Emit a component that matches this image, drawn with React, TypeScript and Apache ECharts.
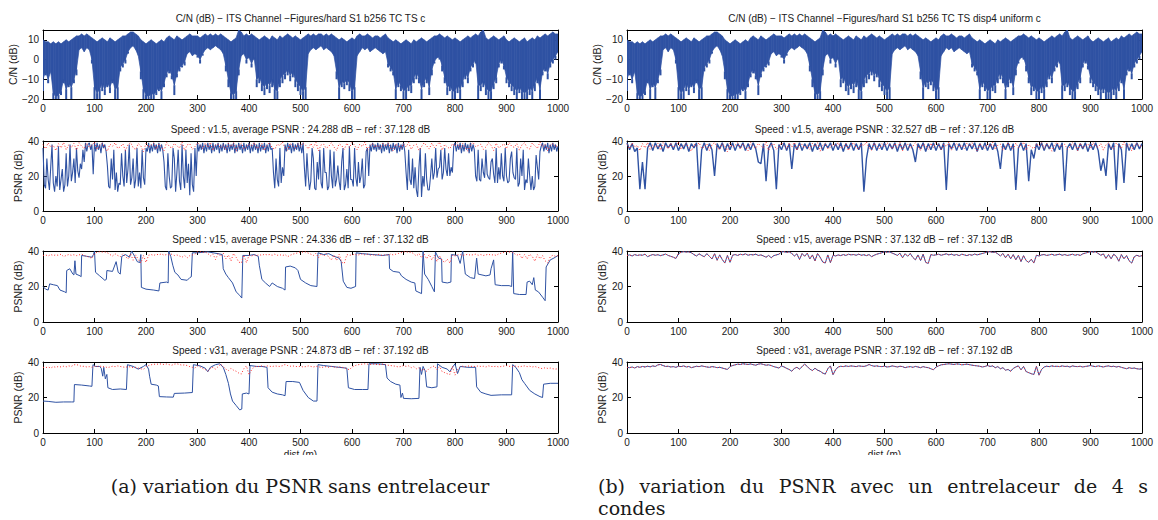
import React, { useEffect, useRef } from "react";
import * as echarts from "echarts";

// ---------------- data ----------------
const STEP = 5; // metres between samples of the sampled series
const STEP_FINE = 2.5; // metres between samples of the dense v1.5 trace
const X_MIN = 0;
const X_MAX = 1000;
const X_INTERVAL = 100;

const TITLES = [
  "C/N (dB) \u2212 ITS Channel \u2212Figures/hard S1 b256 TC TS c",
  "C/N (dB) \u2212 ITS Channel \u2212Figures/hard S1 b256 TC TS disp4 uniform c",
  "Speed : v1.5, average PSNR : 24.288 dB \u2212 ref : 37.128 dB",
  "Speed : v1.5, average PSNR : 32.527 dB \u2212 ref : 37.126 dB",
  "Speed : v15, average PSNR : 24.336 dB \u2212 ref : 37.132 dB",
  "Speed : v15, average PSNR : 37.132 dB \u2212 ref : 37.132 dB",
  "Speed : v31, average PSNR : 24.873 dB \u2212 ref : 37.192 dB",
  "Speed : v31, average PSNR : 37.192 dB \u2212 ref : 37.192 dB",
];

// C/N trace, every 5 m: upper extent, level down to which the trace is solid, lowest spike
const CN_HI = [
  10, 9, 9, 8, 9, 8, 9, 8, 9, 10,
  9, 10, 11, 12, 12, 13, 12, 13, 12, 11,
  10, 9, 10, 11, 10, 9, 11, 10, 9, 10,
  11, 12, 12, 13, 14, 14, 13, 12, 10, 9,
  8, 9, 10, 9, 8, 9, 10, 9, 11, 12,
  11, 10, 12, 11, 10, 11, 12, 13, 12, 12,
  12, 11, 12, 13, 12, 13, 12, 13, 12, 13,
  12, 11, 10, 9, 10, 11, 15, 14, 12, 13,
  12, 13, 12, 11, 10, 11, 12, 11, 10, 12,
  11, 10, 12, 11, 12, 13, 12, 11, 12, 11,
  10, 11, 12, 13, 12, 13, 12, 13, 13, 12,
  13, 12, 13, 12, 11, 10, 11, 10, 9, 10,
  11, 10, 12, 13, 12, 12, 13, 12, 11, 12,
  12, 11, 12, 13, 11, 10, 9, 10, 9, 8,
  9, 10, 9, 8, 10, 9, 10, 11, 10, 9,
  10, 11, 12, 12, 13, 12, 11, 12, 11, 10,
  11, 10, 9, 10, 11, 12, 11, 12, 13, 12,
  14, 15, 11, 10, 11, 12, 11, 10, 11, 12,
  10, 9, 10, 11, 10, 9, 10, 11, 9, 10,
  11, 10, 12, 11, 12, 13, 12, 13, 14, 13,
  13,
];
const CN_CORE = [
  -10, -6, -10, -6, -17, -19, -18, -16, -10, -15,
  -12, -14, -10, -5, 5, 6, 4, 6, 5, 0,
  -14, -17, -15, -12, -15, -12, -14, -10, -15, -14,
  -4, -2, 0, 4, 6, 7, 5, 2, -6, -15,
  -18, -19, -17, -18, -16, -14, -16, -12, -7, -5,
  -8, -13, -7, -4, -3, -1, 3, 4, 2, 3,
  2, 0, 3, 5, 6, 5, 6, 7, 6, 5,
  3, -3, -10, -17, -18, -16, -5, 2, 3, 0,
  1, -2, 1, -10, -9, -12, -14, -11, -13, -10,
  -15, -16, -10, -8, -7, -5, -8, -6, -10, -12,
  -14, -16, -14, 3, 5, 6, 5, 6, 7, 5,
  6, 5, 4, 2, -6, -14, -11, -12, -10, -12,
  -16, -14, 2, 4, 6, 5, 6, 4, 5, 6,
  5, 4, 3, 4, -2, -4, -6, -15, -11, -13,
  -16, -15, -13, -13, -9, -7, -9, -15, -11, -9,
  -14, -5, -1, 1, 1, -3, -9, -14, -13, -16,
  -16, -13, -15, -11, -7, -9, -4, -2, 0, -13,
  -13, -11, -14, -16, -16, -12, -9, -2, 0, -3,
  -9, -11, -13, -14, -16, -14, -16, -17, -16, -14,
  -16, -12, -9, -15, -6, -4, -7, -2, 0, 2,
  4,
];
const CN_LO = [
  -16, -8, -12, -6, -20, -20, -20, -18, -12, -20,
  -14, -20, -12, -8, 5, 6, 4, 6, 5, -2,
  -20, -20, -20, -16, -18, -14, -17, -12, -20, -20,
  -6, -4, -2, 3, 6, 7, 5, 2, -10, -20,
  -20, -20, -20, -20, -18, -16, -20, -14, -9, -7,
  -10, -18, -9, -6, -4, -3, 3, 4, 2, 3,
  1, -2, 2, 5, 6, 5, 6, 7, 6, 5,
  3, -6, -14, -20, -20, -20, -8, 2, 3, -2,
  1, -4, 0, -14, -12, -16, -18, -15, -17, -14,
  -20, -20, -14, -12, -10, -8, -11, -9, -14, -16,
  -18, -20, -20, 3, 5, 6, 5, 6, 7, 5,
  6, 5, 4, 2, -10, -20, -14, -15, -13, -16,
  -20, -20, 2, 4, 6, 5, 6, 4, 5, 6,
  5, 4, 3, 4, -4, -6, -8, -20, -14, -16,
  -20, -20, -16, -17, -12, -10, -12, -20, -14, -12,
  -18, -8, -2, 1, 0, -6, -12, -18, -16, -20,
  -20, -17, -20, -14, -10, -12, -6, -4, -2, -20,
  -16, -14, -18, -20, -20, -15, -12, -4, -2, -5,
  -12, -14, -16, -18, -20, -17, -20, -20, -20, -18,
  -20, -16, -12, -20, -8, -6, -10, -4, -2, 0,
  4,
];

// PSNR v1.5 without interleaver, every 2.5 m
const PSNR_V1_5_NO_INTER = [
  36, 15, 13, 30, 18, 12, 25, 38, 16, 11, 20, 14, 37, 12, 18, 24, 11, 15, 33, 14,
  20, 38, 17, 22, 30, 16, 36, 23, 19, 27, 24, 35, 28, 39, 34, 38, 39, 35, 38, 21,
  39, 34, 39, 35, 38, 33, 39, 36, 38, 34, 26, 14, 13, 30, 18, 35, 12, 22, 11, 16,
  15, 33, 20, 14, 35, 16, 24, 38, 15, 19, 30, 13, 18, 36, 14, 22, 13, 35, 19, 15,
  36, 34, 39, 33, 38, 34, 39, 35, 38, 33, 39, 34, 38, 35, 28, 14, 12, 33, 20, 13,
  14, 36, 30, 11, 22, 35, 17, 12, 38, 20, 13, 35, 16, 27, 9, 33, 15, 11, 36, 20,
  39, 34, 38, 35, 39, 33, 38, 34, 39, 35, 38, 33, 39, 34, 38, 35, 39, 33, 38, 34,
  39, 35, 38, 33, 39, 34, 38, 35, 39, 33, 38, 34, 39, 35, 38, 33, 39, 34, 38, 35,
  39, 33, 38, 34, 39, 35, 38, 33, 39, 34, 38, 35, 39, 33, 38, 34, 39, 35, 36, 22,
  13, 30, 18, 14, 36, 16, 25, 20, 38, 34, 39, 35, 38, 33, 39, 34, 38, 35, 39, 34,
  38, 33, 39, 25, 14, 33, 20, 12, 17, 36, 30, 13, 12, 28, 18, 35, 16, 13, 36, 22,
  22, 12, 14, 35, 20, 13, 34, 14, 18, 26, 17, 12, 28, 36, 12, 15, 24, 13, 37, 18,
  18, 14, 36, 19, 14, 28, 16, 20, 30, 13, 15, 34, 36, 20, 38, 34, 39, 35, 38, 34,
  39, 35, 38, 33, 39, 34, 38, 35, 39, 33, 38, 34, 39, 35, 38, 33, 39, 34, 38, 35,
  39, 34, 22, 12, 35, 18, 15, 30, 13, 25, 12, 8, 25, 36, 8, 20, 14, 33, 18, 12,
  12, 20, 30, 18, 22, 36, 19, 24, 25, 35, 18, 22, 36, 24, 20, 33, 20, 25, 22, 37,
  39, 34, 38, 35, 39, 33, 38, 34, 39, 35, 38, 33, 39, 34, 38, 35, 20, 17, 35, 18,
  17, 30, 22, 19, 35, 21, 19, 18, 28, 30, 21, 16, 36, 16, 25, 18, 33, 20, 17, 36,
  20, 16, 17, 30, 34, 22, 19, 18, 36, 14, 16, 30, 20, 35, 12, 18, 16, 30, 20, 12,
  20, 12, 14, 32, 25, 18, 34, 37, 39, 34, 38, 35, 39, 33, 38, 34, 39, 35, 38, 34,
  37,
];

// PSNR v1.5 with 4 s interleaver, every 5 m
const PSNR_V1_5_INTER = [
  39, 35, 38.5, 34, 36, 12.5, 28, 12.5, 36, 39,
  34.5, 39, 35.5, 38.5, 34, 39, 36, 38.5, 35, 39,
  34.5, 38.5, 35.5, 39, 34, 38.5, 36, 39, 12.5, 35,
  39, 34.5, 38.5, 35, 20, 38.5, 35.5, 39, 34, 38.5,
  35, 39, 34.5, 38.5, 36, 39, 34.5, 38.5, 35, 39,
  35.5, 28, 27, 38.5, 17, 36, 39, 34.5, 12.5, 38,
  35, 39, 34.5, 38.5, 24, 38.5, 35, 39, 34.5, 38.5,
  35.5, 39, 34, 38.5, 35, 39, 34.5, 38.5, 36, 39,
  34.5, 38.5, 35, 39, 34, 38.5, 35.5, 39, 34.5, 38.5,
  35, 39, 11, 30, 38.5, 35, 39, 34.5, 38.5, 35,
  39, 34.5, 38.5, 35.5, 39, 34, 38.5, 35, 39, 34.5,
  38.5, 35, 28, 38.5, 35.5, 39, 34, 38.5, 35, 39,
  34.5, 38.5, 35, 39, 12, 38.5, 35.5, 39, 34.5, 38.5,
  35, 39, 34.5, 38.5, 35.5, 39, 34, 38.5, 35, 39,
  34.5, 38.5, 35, 39, 34, 24, 38.5, 35, 39, 34.5,
  38.5, 12, 36, 39, 34.5, 38.5, 17, 35, 30, 38.5,
  35, 39, 34.5, 38.5, 35.5, 39, 34, 38.5, 35, 39,
  11.5, 36, 38.5, 35, 39, 34.5, 38.5, 35.5, 39, 34,
  38.5, 35, 39, 34.5, 23, 30, 20, 38.5, 35, 39,
  12, 38.5, 35, 16, 39, 34.5, 38.5, 35, 39, 35.5,
  38.5,
];

// reference PSNR (no channel errors) v1.5, every 5 m
const REF_V1_5 = [
  38, 35.5, 39, 36.5, 37.5, 34.5, 38.5, 36, 39.2, 35,
  37.8, 36.2, 38.6, 34.8, 39, 37, 35.6, 38.8, 36.4, 37.6,
  39.4, 35.2, 37.4, 38.8, 36, 34.2, 38.2, 37, 39, 35.8,
  36.6, 38.4, 34.6, 37.8, 39.2, 36.2, 35, 38.6, 37.2, 33.8,
  38.8, 36.4, 37.6, 39, 35.4, 38.2, 36.8, 34.4, 39.2, 37,
  35.8, 38.6, 37.2, 36, 39.4, 34.6, 37.8, 38.4, 35.2, 36.8,
  39, 37.4, 35.6, 38.8, 36.6, 39.2, 34.8, 37.6, 38.2, 36,
  37.8, 35, 38.6, 36.8, 39, 34.2, 37.4, 38.8, 35.6, 36.4,
  38.4, 37, 39.2, 35.8, 36.6, 38.6, 34.6, 37.8, 39, 36.2,
  35.2, 38.2, 37.4, 39.4, 36, 34.8, 38.8, 37.2, 35.6, 38.4,
  36.8, 39, 37.6, 35.4, 38.6, 36.4, 39.2, 34.4, 37.8, 38.2,
  35.8, 37, 39, 36.6, 34.6, 38.4, 37.4, 35.2, 38.8, 36.2,
  39.2, 37.6, 35, 38.2, 36.8, 39.4, 34.8, 37.2, 38.6, 36.4,
  37.8, 35.6, 38.8, 37, 39, 36, 34.4, 38.4, 37.4, 35.8,
  38.6, 36.6, 39.2, 35.2, 37.6, 38.2, 34.6, 36.8, 39, 37.2,
  35.4, 38.8, 36.2, 37.8, 39.4, 34.8, 38, 36.6, 35.6, 38.4,
  37, 39, 35.8, 38.6, 36.4, 34.2, 37.8, 39.2, 36.8, 37.4,
  38.2, 35.2, 36.6, 39, 37.6, 34.6, 38.8, 36, 37.2, 38.4,
  35.6, 39.2, 37, 36.4, 38.6, 34.8, 37.8, 39, 36.2, 35.4,
  38.8, 37.2, 35.8, 39.4, 36.6, 38, 34.4, 37.6, 38.6, 36.8,
  37.4,
];

// reference PSNR v15 (also the interleaved v15 result), every 5 m
const REF_V15 = [
  37.5, 37.8, 37.2, 38, 37.5, 37.8, 37.6, 38.2, 36.8, 37.5,
  38, 37.6, 37.9, 37.4, 37.8, 38.3, 37.5, 37, 36.5, 35.8,
  38.5, 39.3, 39.6, 39.4, 39.5, 39, 38, 37.2, 38.4, 37.5,
  36.8, 38.5, 37, 35.5, 38.5, 34.8, 37.8, 35.2, 33.2, 37.5,
  33.6, 37.6, 38, 37.5, 38.2, 37.8, 38.4, 37.6, 38, 37.8,
  38.2, 37.5, 37.8, 37.2, 36.5, 37.5, 36.2, 37.4, 37.8, 38.2,
  39.5, 39.6, 39.2, 39.5, 38.6, 37.2, 38.4, 35.2, 38.6, 37,
  38.8, 35.5, 37.8, 34.4, 38.6, 36.5, 33.8, 33.2, 37.8, 33.4,
  37.6, 37.2, 37.8, 37.4, 38, 37.5, 38.2, 37.8, 38, 37.6,
  38.2, 37.6, 37.9, 37.4, 38, 36.8, 37.6, 38.2, 38.6, 39,
  39.6, 39.3, 39.5, 38.8, 38.2, 37.5, 38.8, 36.2, 38.5, 37,
  38.6, 36.4, 35, 37.8, 34.6, 38.2, 33.6, 33, 38, 37.6,
  37.8, 38.2, 37.6, 38, 38.4, 37.8, 38.2, 37.6, 38, 37.4,
  38.2, 37.8, 37.4, 38, 37.6, 38.3, 37.8, 38.2, 38.6, 39,
  39.5, 39.6, 39.2, 39.4, 38.4, 37.2, 38.6, 36.2, 38.2, 35.6,
  38, 35, 37.6, 34, 37.4, 34.6, 33.6, 35.4, 33.2, 37.6,
  37.2, 37.8, 38, 37.5, 37.8, 38.2, 37.6, 37.9, 38.2, 37.6,
  38, 37.5, 37.8, 38.2, 37.6, 38, 37.5, 38.4, 38.8, 39.2,
  39.6, 39.4, 39.5, 38.6, 37.6, 38.4, 35.8, 38, 35.6, 38.2,
  37, 34.2, 38, 35.6, 37.4, 34.5, 33.2, 36.8, 37.6, 37,
  37.4,
];

// reference PSNR v31 (also the interleaved v31 result), every 5 m
const REF_V31 = [
  37, 36.8, 37.2, 36.6, 37.4, 37, 37.5, 37.2, 37.6, 37.3,
  37.8, 37.5, 38.4, 38.6, 38, 37.5, 37.6, 37.2, 37.4, 37,
  37.6, 37.4, 37.8, 37.2, 37.5, 36.8, 37.2, 37.6, 37.4, 37.8,
  37.5, 37.2, 37, 37.4, 37.2, 36.8, 37, 36.6, 36.2, 35.8,
  37.4, 38, 38.4, 38.8, 38.6, 39, 38.8, 38.6, 38.9, 38.5,
  38.2, 38.8, 39, 38.6, 38.2, 38.4, 38, 37.4, 37, 36.6,
  37.8, 37.2, 36.4, 35.8, 34.8, 36.4, 37, 36, 37.4, 38.8,
  37.5, 36, 35.2, 36.5, 35.4, 34.8, 33.8, 33.2, 36.2, 37.8,
  32.8, 35.6, 37.2, 37.6, 37.4, 37.8, 37.5, 37.8, 37.6, 37.4,
  37.8, 37.6, 37.5, 37.9, 38.6, 38, 37.6, 37.8, 37.5, 37.4,
  37.6, 37.2, 37.4, 37.8, 37.5, 37.2, 37.6, 37.4, 36.8, 37.2,
  37.4, 37, 37.5, 37.2, 36.8, 37.4, 37, 36.8, 36.2, 35.6,
  37.2, 37.8, 38.4, 38.6, 38.8, 39, 38.8, 38.6, 38.9, 38.8,
  38.4, 38.6, 38.8, 38.5, 38.2, 38, 37.8, 37.6, 37.2, 37.5,
  38, 37.5, 37.8, 36.8, 37.4, 36.2, 36.8, 35.4, 35.8, 34.8,
  36.4, 37.2, 37.8, 35.6, 37.5, 34.6, 34, 33.4, 33, 37.6,
  32.6, 35.8, 37.2, 37.6, 37.4, 37.8, 37.5, 37.6, 37.4, 37.8,
  37.5, 37.6, 37.2, 37.8, 37.5, 37.4, 37.6, 37.2, 37.5, 37.7,
  38, 37.6, 37.4, 37.8, 37.5, 37.2, 37.6, 37.8, 37.4, 37.6,
  37.2, 37.5, 37, 36.6, 36.2, 36.8, 36.4, 36.6, 36.2, 36,
  36.2,
];

// PSNR v15 without interleaver: breakpoints (dist m, dB)
const PSNR_V15_NO_INTER_X = [
  0, 5, 10, 13, 20, 28, 33, 42, 45, 46, 52, 58, 60, 62, 64, 72, 74, 75, 85, 95,
  98, 100, 102, 110, 120, 123, 124, 135, 142, 146, 150, 153, 160, 168, 172, 178, 183, 188, 190, 191,
  200, 215, 225, 227, 240, 243, 244, 248, 252, 256, 262, 268, 280, 285, 288, 290, 300, 320, 340, 348,
  350, 355, 360, 368, 375, 382, 386, 388, 400, 410, 418, 420, 425, 432, 440, 445, 455, 465, 470, 471,
  480, 490, 495, 500, 510, 520, 532, 534, 545, 555, 565, 575, 579, 583, 590, 598, 607, 608, 620, 640,
  660, 672, 673, 680, 692, 696, 705, 715, 722, 724, 735, 738, 741, 748, 755, 760, 762, 768, 774, 775,
  785, 792, 793, 805, 810, 815, 820, 830, 838, 842, 845, 860, 868, 870, 875, 878, 890, 905, 910, 912,
  914, 925, 938, 940, 945, 950, 953, 956, 962, 970, 975, 977, 985, 992, 1000,
];
const PSNR_V15_NO_INTER_Y = [
  20, 18.5, 18, 21.5, 21, 20.5, 18, 17, 16.5, 29, 30, 27, 26.5, 34.5, 27, 26, 25.5, 37.5, 37, 36.5,
  38, 40, 28, 26, 23.5, 24, 29, 28.5, 34, 28, 27, 37, 38, 36.5, 40, 37, 34, 33.5, 38, 19.5,
  18.5, 18, 17.5, 22, 22.5, 22, 40, 37, 32, 28, 26.5, 24, 23.5, 25, 25.5, 39, 39, 39.5, 38.5, 38,
  30, 27, 25, 22, 17, 15, 13.5, 37.5, 37.5, 38, 37, 32, 24, 22, 20, 22, 20, 19, 18, 31,
  31.5, 30.5, 29, 24, 22, 20.5, 20, 39, 38, 38.5, 37, 36, 34, 23, 19.5, 19, 20, 39, 38.5, 38,
  37.5, 38, 30, 28.5, 28, 26, 24, 22.5, 22, 17.5, 16, 40, 27, 24, 20, 17, 39.5, 36, 35.5, 22.5,
  22, 22.5, 38, 37.5, 33, 40, 27, 25, 24.5, 36, 27, 26, 26.5, 30, 35, 21, 20.5, 20.5, 20, 40,
  16, 15.5, 15.5, 22.5, 23, 21, 25, 18, 17, 14, 12, 31, 35, 36, 37.5,
];

// PSNR v31 without interleaver: breakpoints (dist m, dB)
const PSNR_V31_NO_INTER_X = [
  0, 10, 25, 40, 55, 60, 61, 75, 90, 95, 97, 102, 110, 113, 116, 118, 121, 124, 126, 135,
  150, 162, 164, 175, 185, 195, 200, 205, 207, 210, 220, 224, 226, 240, 253, 255, 275, 290, 292, 305,
  315, 320, 325, 335, 343, 350, 355, 360, 364, 368, 375, 382, 386, 387, 395, 400, 402, 415, 425, 435,
  437, 445, 455, 465, 470, 472, 485, 498, 505, 515, 525, 532, 534, 545, 560, 575, 590, 593, 605, 620,
  631, 633, 650, 665, 668, 675, 685, 693, 695, 698, 700, 715, 730, 732, 735, 738, 742, 745, 755, 765,
  766, 775, 785, 790, 795, 800, 805, 810, 825, 840, 842, 850, 860, 870, 890, 910, 912, 918, 925, 930,
  935, 945, 955, 965, 970, 972, 985, 1000,
];
const PSNR_V31_NO_INTER_Y = [
  18, 17.8, 17.3, 17.5, 17.5, 17.5, 27.3, 27, 26.5, 26.3, 38.5, 37.5, 37.5, 36.5, 32, 37, 30.5, 33, 25.5, 24.5,
  24.8, 24.5, 38.5, 37.5, 36, 37.5, 38.5, 36, 32, 27.5, 27, 26.5, 20.5, 20.3, 20.2, 22.3, 22.5, 22.8, 38.5, 37.8,
  36.5, 34.5, 37, 38.5, 39, 37, 33, 28, 22, 18, 15.5, 13, 13.5, 22, 22.5, 22, 38, 37.5, 37.5, 37,
  25.5, 23, 22, 21.5, 21, 29, 29, 28.5, 24, 20, 18, 18, 38.5, 38, 37.5, 37, 36.5, 25.5, 24.5, 24.5,
  24.5, 39, 39, 38.5, 31, 29, 27.5, 27, 20, 22.5, 19.5, 19.3, 19.5, 37, 33, 37.5, 35, 26, 25.5, 26,
  39, 37, 36, 34.5, 37, 39, 33.5, 37.5, 37, 37, 26, 23, 22, 21.2, 21.5, 21.5, 38.5, 37, 34, 30,
  28, 24, 22, 20.5, 20, 27.5, 28, 28,
];

// ---------------- layout & style ----------------
const COL_LEFT = [43, 627];
const PLOT_W = 515;
const ROW_TOP = [30, 141, 251, 362];
const ROW_H = [69, 70, 71, 71];
const BLUE = "#2f52a3";
const RED = "#ff2a2a";
const FONT = "'Liberation Sans', Arial, Helvetica, sans-serif";
const SERIF = "'DejaVu Serif', serif";
const TEXT = "#1a1a1a";

const sampled = (arr: number[], step = STEP) => arr.map((v, i) => [i * step, v]);
const paired = (xs: number[], ys: number[]) => xs.map((x, i) => [x, ys[i]]);
const minusFmt = (v: number) => (v < 0 ? "\u2212" + Math.abs(v) : String(v));

function buildOption() {
  const grids: any[] = [];
  const xAxes: any[] = [];
  const yAxes: any[] = [];
  const series: any[] = [];
  const graphics: any[] = [];

  for (let g = 0; g < 8; g++) {
    const col = g % 2;
    const row = Math.floor(g / 2);
    grids.push({ left: COL_LEFT[col], top: ROW_TOP[row], width: PLOT_W, height: ROW_H[row], containLabel: false });
  }
  const tick = { show: true, inside: true, length: 4, lineStyle: { color: "#000", width: 1 } };
  const line = { show: true, onZero: false, lineStyle: { color: "#000", width: 1 } };
  for (let g = 0; g < 8; g++) {
    const row = Math.floor(g / 2);
    xAxes.push({
      gridIndex: g, type: "value", position: "bottom", min: X_MIN, max: X_MAX, interval: X_INTERVAL,
      axisLine: line, axisTick: tick, splitLine: { show: false },
      axisLabel: { show: true, fontSize: 10, color: TEXT, fontFamily: FONT, margin: 4, formatter: (v: number) => String(v) },
      name: row === 3 ? "dist (m)" : "", nameLocation: "middle", nameGap: 16,
      nameTextStyle: { fontSize: 10, color: TEXT, fontFamily: FONT },
    });
  }
  for (let g = 0; g < 8; g++) {
    xAxes.push({
      gridIndex: g, type: "value", position: "top", min: X_MIN, max: X_MAX, interval: X_INTERVAL,
      axisLine: line, axisTick: tick, splitLine: { show: false }, axisLabel: { show: false },
    });
  }
  for (let g = 0; g < 8; g++) {
    const row = Math.floor(g / 2);
    const cn = row === 0;
    yAxes.push({
      gridIndex: g, type: "value", position: "left",
      min: cn ? -20 : 0, max: cn ? 15 : 40, interval: cn ? 10 : 20,
      axisLine: line, axisTick: tick, splitLine: { show: false },
      axisLabel: { show: true, fontSize: 10, color: TEXT, fontFamily: FONT, margin: 4, showMaxLabel: !cn, formatter: minusFmt },
      name: cn ? "C/N (dB)" : "PSNR (dB)", nameLocation: "middle", nameGap: cn ? 23 : 20,
      nameTextStyle: { fontSize: 10.5, color: TEXT, fontFamily: FONT },
    });
  }
  for (let g = 0; g < 8; g++) {
    const row = Math.floor(g / 2);
    const cn = row === 0;
    yAxes.push({
      gridIndex: g, type: "value", position: "right",
      min: cn ? -20 : 0, max: cn ? 15 : 40, interval: cn ? 10 : 20,
      axisLine: line, axisTick: tick, splitLine: { show: false }, axisLabel: { show: false },
    });
  }

  // C/N panels: solid band between upper extent and solid level, plus spikes down to the lowest value
  [0, 1].forEach((g) => {
    series.push({
      type: "custom", xAxisIndex: g, yAxisIndex: g, clip: true, silent: true,
      data: CN_CORE.map((c, i) => [i * STEP, c, CN_HI[i]]),
      encode: { x: 0, y: [1, 2] },
      renderItem: (params: any, api: any) => {
        const i = params.dataIndex;
        if (i >= CN_CORE.length - 1) return null;
        const x0 = i * STEP;
        const x1 = (i + 1) * STEP;
        const pts = [
          api.coord([x0, CN_HI[i]]),
          api.coord([x1, CN_HI[i + 1]]),
          api.coord([x1, CN_CORE[i + 1]]),
          api.coord([x0, CN_CORE[i]]),
        ];
        return { type: "polygon", shape: { points: pts }, style: { fill: BLUE, stroke: BLUE, lineWidth: 0.7 } };
      },
    });
    series.push({
      type: "custom", xAxisIndex: g, yAxisIndex: g, clip: true, silent: true,
      data: CN_LO.map((lo, i) => [i * STEP, lo, CN_CORE[i]]),
      encode: { x: 0, y: [1, 2] },
      renderItem: (params: any, api: any) => {
        const i = params.dataIndex;
        const x = i * STEP;
        if (CN_LO[i] >= CN_CORE[i]) return null;
        const a = api.coord([x, CN_CORE[i]]);
        const b = api.coord([x, CN_LO[i]]);
        return { type: "line", shape: { x1: a[0], y1: a[1], x2: b[0], y2: b[1] }, style: { stroke: BLUE, lineWidth: 2 } };
      },
    });
  });

  const blueLine = (g: number, data: number[][], w = 1) => ({
    type: "line", xAxisIndex: g, yAxisIndex: g, data, symbol: "none", silent: true,
    lineStyle: { color: BLUE, width: w }, clip: true,
  });
  const redDots = (g: number, data: number[][]) => ({
    type: "line", xAxisIndex: g, yAxisIndex: g, data, symbol: "none", silent: true,
    lineStyle: { color: RED, width: 1, type: [1, 2] }, clip: true,
  });

  series.push(blueLine(2, sampled(PSNR_V1_5_NO_INTER, STEP_FINE), 1.1), redDots(2, sampled(REF_V1_5)));
  series.push(blueLine(3, sampled(PSNR_V1_5_INTER), 1.4), redDots(3, sampled(REF_V1_5)));
  series.push(blueLine(4, paired(PSNR_V15_NO_INTER_X, PSNR_V15_NO_INTER_Y)), redDots(4, sampled(REF_V15)));
  series.push(blueLine(5, sampled(REF_V15)), redDots(5, sampled(REF_V15)));
  series.push(blueLine(6, paired(PSNR_V31_NO_INTER_X, PSNR_V31_NO_INTER_Y)), redDots(6, sampled(REF_V31)));
  series.push(blueLine(7, sampled(REF_V31)), redDots(7, sampled(REF_V31)));

  // panel titles
  TITLES.forEach((t, g) => {
    const col = g % 2;
    const row = Math.floor(g / 2);
    graphics.push({
      type: "text", silent: true, x: COL_LEFT[col] + PLOT_W / 2, y: ROW_TOP[row] - 12,
      style: { text: t, fill: TEXT, font: `10px ${FONT}`, align: "center", verticalAlign: "middle", textAlign: "center", textVerticalAlign: "middle" },
    });
  });

  // the xlabel "dist (m)" is cut by the caption area
  graphics.push({ type: "rect", silent: true, z: 100, shape: { x: 0, y: 455, width: 1158, height: 18 }, style: { fill: "#fff" } });

  // captions
  const capFont = `19px ${SERIF}`;
  const capStyle = { fill: TEXT, font: capFont, lineHeight: 20 };
  graphics.push({
    type: "text", silent: true, z: 101, x: 300, y: 486,
    style: { ...capStyle, text: "(a) variation du PSNR sans entrelaceur", align: "center", verticalAlign: "middle", textAlign: "center", textVerticalAlign: "middle" },
  });
  const words = ["(b)", "variation", "du", "PSNR", "avec", "un", "entrelaceur", "de", "4", "s"];
  const ctx = document.createElement("canvas").getContext("2d") as CanvasRenderingContext2D;
  ctx.font = capFont;
  const widths = words.map((w) => ctx.measureText(w).width);
  const lineL = 598;
  const lineR = 1148;
  const gap = Math.max(5, (lineR - lineL - widths.reduce((a, b) => a + b, 0)) / (words.length - 1));
  let cx = lineL;
  words.forEach((w, i) => {
    graphics.push({
      type: "text", silent: true, z: 101, x: cx, y: 486,
      style: { ...capStyle, text: w, align: "left", verticalAlign: "middle", textAlign: "left", textVerticalAlign: "middle" },
    });
    cx += widths[i] + gap;
  });
  graphics.push({
    type: "text", silent: true, z: 101, x: lineL, y: 508,
    style: { ...capStyle, text: "condes", align: "left", verticalAlign: "middle", textAlign: "left", textVerticalAlign: "middle" },
  });

  return {
    animation: false,
    backgroundColor: "#fff",
    grid: grids,
    xAxis: xAxes,
    yAxis: yAxes,
    series,
    graphic: { elements: graphics },
  };
}

export default function App() {
  const ref = useRef<HTMLDivElement>(null);
  useEffect(() => {
    if (!ref.current) return;
    const chart = echarts.init(ref.current, undefined, { renderer: "svg" });
    chart.setOption(buildOption() as any);
    return () => chart.dispose();
  }, []);
  return (
    <div
      ref={ref}
      style={{ position: "absolute", left: 0, top: 0, width: 1158, height: 520, background: "#fff" }}
    />
  );
}
